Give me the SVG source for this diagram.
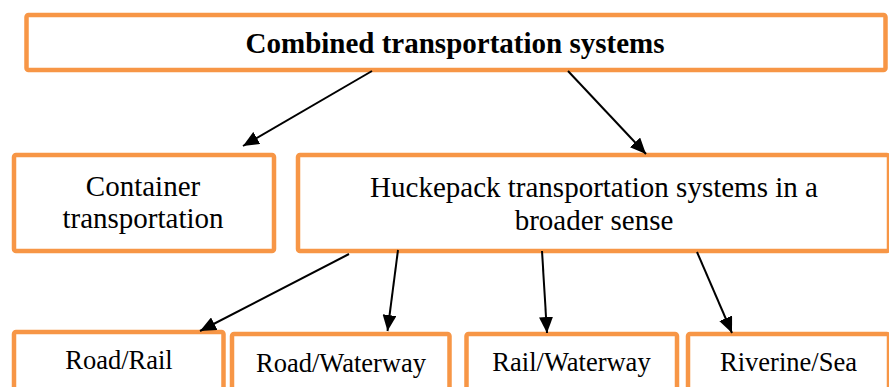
<svg xmlns="http://www.w3.org/2000/svg" width="889" height="387" viewBox="0 0 889 387">
  <style>
    .box { fill: #ffffff; stroke: #F79646; stroke-width: 4.5; }
    .t { font-family: 'Liberation Serif', Tinos, 'DejaVu Serif', serif; fill: #000000; text-anchor: middle; }
    .big { font-size: 29px; }
    .small { font-size: 26.5px; }
    .title { font-size: 29px; font-weight: bold; }
    .conn { stroke: #000000; stroke-width: 2; fill: none; marker-end: url(#arrow); }
  </style>
  <defs>
    <marker id="arrow" markerUnits="userSpaceOnUse" markerWidth="16" markerHeight="14" viewBox="0 0 16 14" refX="16" refY="7" orient="auto">
      <path d="M0,0 L16,7 L0,14 Z" fill="#000000"/>
    </marker>
  </defs>
  <rect x="0" y="0" width="889" height="387" fill="#ffffff"/>

  <g id="node-combined">
    <rect class="box" x="26.5" y="15" width="859" height="55" rx="2"/>
    <text class="t title" x="455" y="53" font-family="Liberation Serif, serif">Combined transportation systems</text>
  </g>

  <g id="node-container">
    <rect class="box" x="14" y="155" width="260" height="96" rx="2"/>
    <text class="t big" x="143" y="196" font-family="Liberation Serif, serif">Container</text>
    <text class="t big" x="143" y="228" font-family="Liberation Serif, serif">transportation</text>
  </g>

  <g id="node-huckepack">
    <rect class="box" x="298" y="155" width="591" height="96" rx="2"/>
    <text class="t big" x="594" y="197" font-family="Liberation Serif, serif">Huckepack transportation systems in a</text>
    <text class="t big" x="594" y="230" font-family="Liberation Serif, serif">broader sense</text>
  </g>

  <g id="node-roadrail">
    <rect class="box" x="14" y="332" width="209.5" height="70" rx="2"/>
    <text class="t small" x="119" y="369" font-family="Liberation Serif, serif">Road/Rail</text>
  </g>

  <g id="node-roadwaterway">
    <rect class="box" x="232" y="334" width="217.5" height="70" rx="2"/>
    <text class="t small" x="341" y="372" font-family="Liberation Serif, serif">Road/Waterway</text>
  </g>

  <g id="node-railwaterway">
    <rect class="box" x="466.5" y="334" width="210.5" height="70" rx="2"/>
    <text class="t small" x="571.5" y="371" font-family="Liberation Serif, serif">Rail/Waterway</text>
  </g>

  <g id="node-riverinesea">
    <rect class="box" x="688" y="334" width="201" height="70" rx="2"/>
    <text class="t small" x="788.5" y="371" font-family="Liberation Serif, serif">Riverine/Sea</text>
  </g>

  <g id="connectors">
    <line class="conn" x1="372" y1="71" x2="243" y2="146"/>
    <line class="conn" x1="568" y1="71" x2="646" y2="154"/>
    <line class="conn" x1="349" y1="254" x2="200" y2="331"/>
    <line class="conn" x1="398" y1="250" x2="387.5" y2="331"/>
    <line class="conn" x1="542" y1="251" x2="547" y2="333"/>
    <line class="conn" x1="697" y1="252" x2="732" y2="333"/>
  </g>
</svg>
